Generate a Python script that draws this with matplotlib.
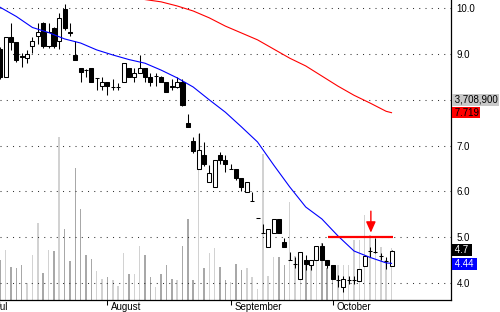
import matplotlib
matplotlib.use("Agg")
import matplotlib.pyplot as plt
import matplotlib.transforms as mtransforms

plt.rcParams['font.family'] = ['Liberation Sans', 'DejaVu Sans']

# daily bars (price in $, volume in millions)
opens = [9.11, 8.49, 9.38, 9.27, 8.96, 8.91, 9.18, 9.39, 9.68, 9.18,
         9.57, 9.28, 9.98, 9.48, 8.99, 8.69, 8.66, 8.69, 8.47, 8.30,
         8.38, 8.27, 8.27, 8.38, 8.70, 8.49, 8.59, 8.69, 8.49, 8.52,
         8.49, 8.40, 8.30, 8.29, 8.38, 7.50, 7.10, 6.50, 6.79, 6.20,
         6.09, 6.79, 6.69, 6.50, 6.50, 6.30, 5.99, 5.79, 5.41, 5.10,
         4.79, 5.10, 5.39, 4.90, 4.50, 4.41, 4.08, 4.50, 4.39, 4.50,
         4.81, 4.50, 4.39, 4.06, 3.91, 4.06, 4.06, 4.05, 4.38, 4.70,
         4.68, 4.60, 4.49, 4.37]
highs = [9.15, 9.38, 9.68, 9.27, 9.02, 9.09, 9.38, 9.67, 9.70, 9.68,
         9.60, 9.89, 10.09, 9.67, 9.28, 8.69, 8.67, 8.69, 8.48, 8.49,
         8.38, 8.45, 8.36, 8.80, 8.70, 8.69, 8.99, 8.69, 8.58, 8.58,
         8.52, 8.40, 8.45, 8.49, 8.45, 7.70, 7.19, 7.27, 7.08, 6.58,
         6.69, 6.87, 6.80, 6.59, 6.50, 6.30, 6.20, 5.99, 5.41, 5.30,
         5.19, 5.39, 5.39, 4.98, 4.68, 4.57, 4.68, 4.61, 4.50, 4.81,
         4.87, 4.50, 4.39, 4.17, 4.15, 4.15, 4.15, 4.30, 4.60, 4.79,
         4.99, 4.65, 4.57, 4.72]
lows = [8.45, 8.49, 9.09, 8.83, 8.72, 8.80, 9.02, 9.23, 9.13, 9.13,
        9.13, 9.12, 9.52, 9.40, 8.88, 8.40, 8.50, 8.38, 8.21, 8.21,
        8.10, 8.21, 8.21, 8.38, 8.49, 8.40, 8.58, 8.40, 8.30, 8.30,
        8.38, 8.18, 8.21, 8.25, 7.86, 7.40, 6.84, 6.50, 6.56, 6.20,
        6.09, 6.59, 6.43, 6.49, 6.25, 6.00, 5.99, 5.79, 5.41, 5.10,
        4.79, 5.10, 5.10, 4.79, 4.50, 4.32, 4.08, 4.28, 4.28, 4.50,
        4.50, 4.32, 4.08, 3.92, 3.81, 3.99, 3.99, 4.05, 4.38, 4.57,
        4.65, 4.50, 4.30, 4.37]
closes = [8.50, 9.38, 9.27, 8.88, 8.93, 9.00, 9.28, 9.49, 9.18, 9.49,
          9.18, 9.78, 9.57, 9.47, 8.88, 8.60, 8.65, 8.38, 8.47, 8.38,
          8.30, 8.27, 8.27, 8.80, 8.49, 8.59, 8.69, 8.49, 8.40, 8.52,
          8.40, 8.18, 8.29, 8.40, 7.88, 7.40, 6.88, 6.90, 6.59, 6.40,
          6.69, 6.69, 6.59, 6.50, 6.30, 6.10, 6.20, 5.79, 5.41, 5.10,
          5.19, 5.39, 5.10, 4.79, 4.50, 4.41, 4.68, 4.41, 4.50, 4.81,
          4.50, 4.39, 4.08, 4.06, 4.08, 4.06, 4.06, 4.30, 4.60, 4.70,
          4.68, 4.60, 4.49, 4.70]
volumes = [2.85, 3.57, 2.35, 2.28, 2.50, 1.21, 3.21, 5.49, 1.93, 3.57,
           3.49, 11.62, 5.06, 2.78, 9.41, 6.49, 3.21, 2.92, 2.07, 1.50,
           1.64, 1.43, 1.00, 3.35, 1.85, 1.85, 3.85, 3.21, 1.64, 0.93,
           1.85, 2.50, 1.50, 1.43, 3.85, 5.78, 1.43, 11.84, 2.28, 3.35,
           3.71, 2.35, 1.43, 1.28, 2.57, 2.14, 2.28, 1.64, 0.78, 10.41,
           1.71, 3.07, 3.07, 2.50, 6.99, 3.14, 3.07, 2.50, 2.85, 3.57,
           4.06, 2.28, 1.93, 2.50, 2.50, 2.50, 4.28, 4.28, 6.06, 4.63,
           3.57, 3.78, 2.85, 3.71]

# moving averages (read at every third bar)
blue_idx = [0, 3, 6, 9, 12, 15, 18, 21, 24, 27, 30, 33, 36, 39, 42, 45,
            48, 51, 54, 57, 60, 63, 66, 69, 72, 73]
blue_ma = [10.02, 9.82, 9.58, 9.47, 9.33, 9.24, 9.09, 8.98, 8.88, 8.80,
           8.65, 8.48, 8.28, 8.00, 7.73, 7.41, 7.08, 6.58, 6.10, 5.66,
           5.40, 5.03, 4.70, 4.56, 4.44, 4.43]
red_idx = [27, 30, 33, 36, 39, 42, 45, 48, 51, 54, 57, 60, 63, 66, 69, 72, 73]
red_ma = [10.19, 10.14, 10.05, 9.94, 9.79, 9.61, 9.46, 9.31, 9.11, 8.91,
          8.74, 8.52, 8.30, 8.10, 7.93, 7.75, 7.72]

month_idx = [-1.5, 20, 43, 62]
month_names = ['Jul', 'August', 'September', 'October']
price_ticks = [4, 5, 6, 7, 8, 9, 10]
price_labels = ['4.0', '5.0', '6.0', '7.0', '', '9.0', '10.0']

resist_level = 5.0
resist_span = (61.1, 73.3)
arrow_idx = 69.15

last_volume = '3,708,900'
red_ma_last = '7.719'
blue_ma_last = '4.44'
last_close = '4.7'

fig = plt.figure(figsize=(5, 3.12), dpi=100)
ax = fig.add_axes([0, 12 / 312, 451 / 500, 300 / 312])
ax2 = ax.twinx()
ax.set_zorder(ax2.get_zorder() + 1)
ax.patch.set_visible(False)

n = len(closes)
xs = list(range(n))

# volume bars behind the candles
vcol = ['#d2d2d2' if closes[i] >= opens[i] else '#a8a8a8' for i in xs]
ax2.bar(xs, volumes, width=0.28, color=vcol, linewidth=0)
ax2.set_ylim(0, 21.39)
ax2.set_yticks([])
for s in ax2.spines.values():
    s.set_visible(False)

# grid
for v in price_ticks:
    ax.axhline(v, color='#333333', lw=0.75, ls=(0, (1, 5)), zorder=0)

# candles
ax.vlines(xs, lows, highs, color='black', lw=0.75, zorder=2)
bw = 0.75
for i in xs:
    o, c = opens[i], closes[i]
    if abs(c - o) < 0.005:
        ax.hlines(c, i - bw / 2, i + bw / 2, color='black', lw=0.75, zorder=3)
    else:
        fc = 'white' if c > o else 'black'
        ax.bar(i, c - o, bottom=o, width=bw, color=fc, edgecolor='black',
               linewidth=0.75, zorder=3)

ax.plot(blue_idx, blue_ma, color='#0000ff', lw=0.8, zorder=4)
ax.plot(red_idx, red_ma, color='#ff0000', lw=0.8, zorder=4)

# resistance line + arrow
ax.hlines(resist_level, resist_span[0], resist_span[1], color='#ff0000', lw=1.6, zorder=5)
ax.annotate('', xy=(arrow_idx, 5.04), xytext=(arrow_idx, 5.63),
            arrowprops=dict(arrowstyle='-|>,head_length=0.65,head_width=0.29',
                            color='#ff0000', lw=1.0, mutation_scale=10), zorder=6)

for s in ['top', 'left']:
    ax.spines[s].set_visible(False)
ax.spines['right'].set_linewidth(0.9)
ax.spines['bottom'].set_linewidth(0.9)

ax.yaxis.tick_right()
ax.set_yticks(price_ticks)
ax.set_yticklabels(price_labels)
ax.tick_params(axis='y', length=0, pad=4, labelsize=7)

ax.set_xticks(month_idx)
ax.set_xticklabels([])
ax.tick_params(axis='x', direction='out', length=3.5, width=0.75)

# limits after the ticks, set_xticks would widen them
ax.set_xlim(-0.05, 84.1)
ax.set_ylim(3.63, 10.18)

for m, name in zip(month_idx, month_names):
    ax.text(m + 0.65, -0.006, name, transform=ax.get_xaxis_transform(),
            ha='left', va='top', fontsize=7, clip_on=False)

# value flags on the right axis
tr = mtransforms.blended_transform_factory(ax.transAxes, ax.transData)
flags = [
    (' ' + last_volume, 8.0, '#c8c8c8', 'black'),
    (' ' + red_ma_last, 7.72, '#ff0000', 'black'),
    (' ' + last_close + ' ', 4.72, 'black', 'white'),
    (' ' + blue_ma_last + ' ', 4.41, '#0000ff', 'white'),
]
for txt, yv, bg, fg in flags:
    ax.text(1.003, yv, txt, transform=tr, ha='left', va='center', fontsize=7,
            color=fg, clip_on=False,
            bbox=dict(boxstyle='square,pad=0.08', fc=bg, ec='none'))

fig.savefig('out.png', dpi=100)
